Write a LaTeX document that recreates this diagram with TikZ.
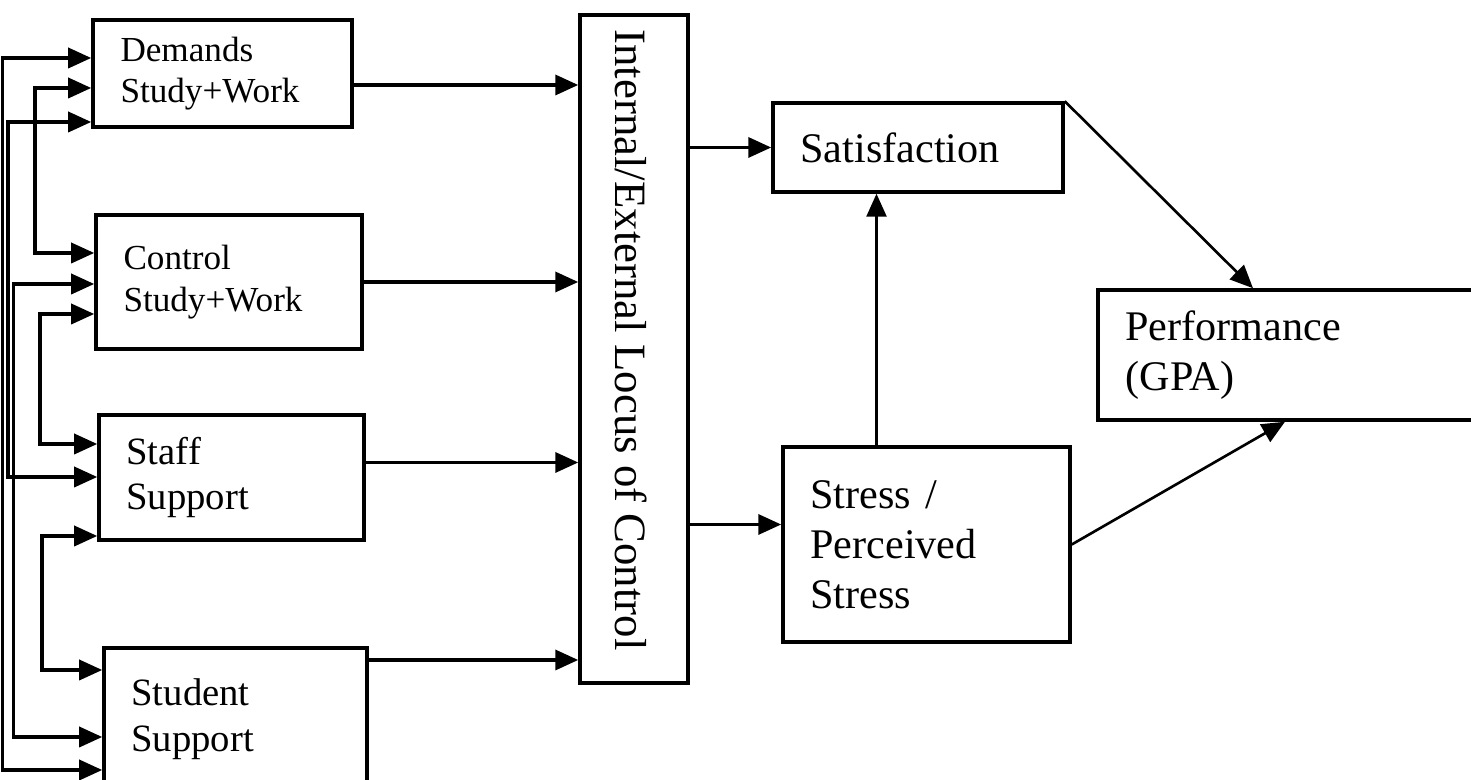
\documentclass[tikz,border=0pt]{standalone}
\usepackage{fontspec}
\setmainfont{Liberation Serif}
\usetikzlibrary{arrows.meta}

\begin{document}
\begin{tikzpicture}[line width=2pt,
  box/.style={draw, rectangle, align=left, inner xsep=0.55cm, inner ysep=0pt},
  arr/.style={-{Triangle[length=0.46cm,width=0.4cm]}},
  both/.style={{Triangle[length=0.46cm,width=0.4cm]}-{Triangle[length=0.46cm,width=0.4cm]}}]
\useasboundingbox (0,0) rectangle (29.42,15.6);

\node[box, text width=4.08cm, minimum height=2.14cm, font=\fontsize{20}{23}\selectfont] (dem) at (4.45,14.13) {Demands\\Study+Work};
\node[box, text width=4.22cm, minimum height=2.68cm, font=\fontsize{20}{24}\selectfont] (ctl) at (4.58,9.96) {Control\\Study+Work};
\node[box, text width=4.20cm, minimum height=2.5cm, font=\fontsize{22}{25.5}\selectfont] (stf) at (4.63,6.05) {Staff\\Support};
\node[box, text width=4.16cm, minimum height=2.84cm, font=\fontsize{22}{26.5}\selectfont] (stu) at (4.71,1.22) {Student\\Support};
\node[draw, rectangle, rotate=-90, inner sep=0pt, minimum width=13.36cm, minimum height=2.16cm] (loc) at (12.68,8.62) {};
\node[rotate=-90, inner sep=0pt, font=\fontsize{25.5}{30}\selectfont] (loctext) at (12.62,8.8) {Internal/External Locus of Control};
\node[box, text width=4.7cm, minimum height=1.78cm, font=\fontsize{24}{28}\selectfont] (sat) at (18.36,12.65) {Satisfaction};
\node[box, text width=4.64cm, minimum height=3.9cm, font=\fontsize{24}{28.4}\selectfont] (str) at (18.53,4.71) {Stress /\\Perceived\\Stress};
\node[box, text width=6.54cm, minimum height=2.6cm, font=\fontsize{24}{28.4}\selectfont] (perf) at (25.78,8.5) {Performance\\(GPA)};

% entry points on the left
\coordinate (d1) at ([yshift=0.31cm]dem.west);
\coordinate (d2) at ([yshift=-0.29cm]dem.west);
\coordinate (d3) at ([yshift=-0.97cm]dem.west);
\coordinate (c1) at ([yshift=0.58cm]ctl.west);
\coordinate (c2) at ([yshift=-0.04cm]ctl.west);
\coordinate (c3) at ([yshift=-0.64cm]ctl.west);
\coordinate (s1) at ([yshift=0.67cm]stf.west);
\coordinate (s2) at ([yshift=0.01cm]stf.west);
\coordinate (s3) at ([yshift=-1.17cm]stf.west);
\coordinate (t1) at ([yshift=0.98cm]stu.west);
\coordinate (t2) at ([yshift=-0.36cm]stu.west);
\coordinate (t3) at ([yshift=-1.02cm]stu.west);
% lanes
\coordinate (la) at (0.05,0);
\coordinate (lb) at (0.16,0);
\coordinate (lc) at (0.27,0);
\coordinate (ld) at (0.70,0);
\coordinate (le) at (0.80,0);
\coordinate (lf) at (0.84,0);

\draw[both] (d2) -- (d2 -| ld) -- (c1 -| ld) -- (c1);
\draw[both] (c3) -- (c3 -| le) -- (s1 -| le) -- (s1);
\draw[both] (s3) -- (s3 -| lf) -- (t1 -| lf) -- (t1);
\draw[both] (d3) -- (d3 -| lb) -- (s2 -| lb) -- (s2);
\draw[both] (c2) -- (c2 -| lc) -- (t2 -| lc) -- (t2);
\draw[both] (d1) -- (d1 -| la) -- (t3 -| la) -- (t3);

% into the locus box
\coordinate (e1) at ([yshift=-0.23cm]dem.east);
\coordinate (e3) at ([yshift=0.3cm]stf.east);
\coordinate (e4) at ([yshift=1.18cm]stu.east);
\coordinate (e5) at ([yshift=0.4cm]str.west);
\draw[arr] (e1) -- (e1 -| loc.south);
\draw[arr] (ctl.east) -- (ctl.east -| loc.south);
\draw[arr] (e3) -- (e3 -| loc.south);
\draw[arr] (e4) -- (e4 -| loc.south);
\draw[arr] (loc.north |- sat.west) -- (sat.west);
\draw[arr] (e5 -| loc.north) -- (e5);

\draw[arr, line width=1.5pt] ([xshift=-1cm]str.north) -- ([xshift=-1cm]str.north |- sat.south);
\draw[arr, line width=1.5pt] (sat.north east) -- ([xshift=-0.72cm]perf.north);
\draw[arr, line width=1.5pt] (str.east) -- ([xshift=-0.08cm]perf.south);
\end{tikzpicture}
\end{document}
